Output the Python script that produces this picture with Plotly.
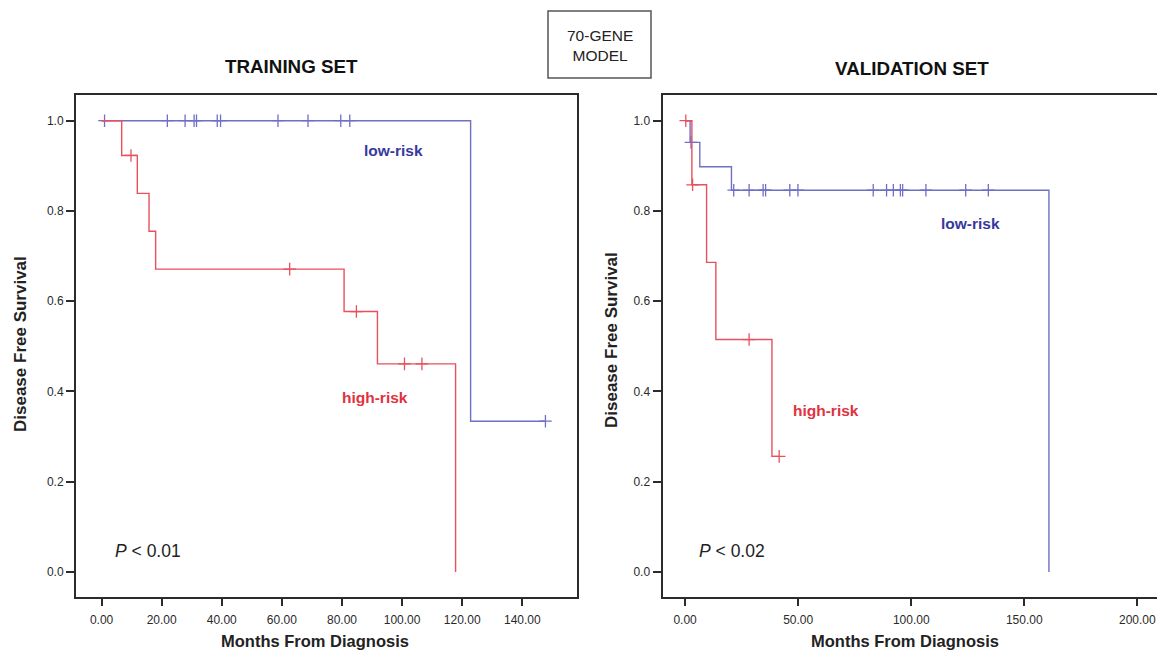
import plotly.graph_objects as go

W, H = 1157, 653

# ---------------- data ----------------
# Training set
train_low_event_times = [122.8]
train_low_surv = [1.0, 0.334]
train_low_censor = [1.0, 21.9, 27.8, 30.8, 31.6, 38.5, 39.6, 58.7, 68.7, 79.6, 82.6, 147.7]

train_high_event_times = [6.7, 11.9, 15.8, 18.0, 80.7, 91.8, 117.8]
train_high_surv = [1.0, 0.923, 0.839, 0.755, 0.671, 0.577, 0.461, 0.0]
train_high_censor = [9.8, 62.6, 84.8, 100.8, 106.6]

# Validation set
val_low_event_times = [2.2, 6.5, 20.5, 160.9]
val_low_surv = [1.0, 0.952, 0.898, 0.846, 0.0]
val_low_censor = [2.6, 21.5, 28.3, 34.5, 35.6, 46.3, 49.9, 83.2, 89.1, 92.1,
                  95.2, 96.2, 106.5, 124.1, 134.1]

val_high_event_times = [3.0, 9.5, 13.6, 38.4]
val_high_surv = [1.0, 0.858, 0.686, 0.515, 0.256]
val_high_censor = [0.3, 3.3, 28.3, 41.6]

y_ticks = [0.0, 0.2, 0.4, 0.6, 0.8, 1.0]
train_x_ticks = [0, 20, 40, 60, 80, 100, 120, 140]
val_x_ticks = [0, 50, 100, 150, 200]

BLUE = "#6f6fc6"
RED = "#e8505c"
BLUE_TXT = "#37399c"
RED_TXT = "#e0323f"
FONT = "Liberation Sans, Arial, sans-serif"


def km_xy(events, surv, censors):
    xs, ys = [0.0], [surv[0]]
    for t, s in zip(events, surv[1:]):
        xs.append(t)
        ys.append(s)
    end = max(list(events) + list(censors))
    if end > xs[-1]:
        xs.append(end)
        ys.append(ys[-1])
    return xs, ys


def surv_at(t, events, surv):
    k = sum(1 for e in events if e <= t)
    return surv[k]


fig = go.Figure()

curves = [
    (train_low_event_times, train_low_surv, train_low_censor, BLUE, "x", "y"),
    (train_high_event_times, train_high_surv, train_high_censor, RED, "x", "y"),
    (val_low_event_times, val_low_surv, val_low_censor, BLUE, "x2", "y2"),
    (val_high_event_times, val_high_surv, val_high_censor, RED, "x2", "y2"),
]
for ev, sv, cen, col, xa, ya in curves:
    xs, ys = km_xy(ev, sv, cen)
    fig.add_trace(go.Scatter(x=xs, y=ys, mode="lines", line_shape="hv",
                             line=dict(color=col, width=1.4),
                             xaxis=xa, yaxis=ya, showlegend=False, hoverinfo="skip"))
    fig.add_trace(go.Scatter(x=cen, y=[surv_at(t, ev, sv) for t in cen], mode="markers",
                             marker=dict(symbol="cross-thin", size=9,
                                         line=dict(color=col, width=1.3)),
                             xaxis=xa, yaxis=ya, showlegend=False, hoverinfo="skip"))


def px(x):
    return x / W


def py(y):
    return 1 - y / H


ydom = [py(597), py(95)]
axis_common = dict(showline=True, linewidth=2, linecolor="#2b2b2b",
                   ticks="outside", tickwidth=2, tickcolor="#2b2b2b",
                   showgrid=False, zeroline=False,
                   tickfont=dict(family=FONT, size=12, color="#2a2a2a"))

fig.update_layout(
    width=W, height=H,
    margin=dict(l=0, r=0, t=0, b=0),
    paper_bgcolor="white", plot_bgcolor="white",
    xaxis=dict(domain=[px(76), px(577)], range=[-8.5, 158.2], mirror=True,
               tickvals=train_x_ticks, tickformat=".2f", ticklen=7, anchor="y",
               ticklabelstandoff=4, **axis_common),
    yaxis=dict(domain=ydom, range=[-0.0556, 1.057], tickvals=y_ticks, mirror=True,
               tickformat=".1f", ticklen=8, anchor="x", **axis_common),
    xaxis2=dict(domain=[px(662.5), 1.0], range=[-10.0, 208.7], mirror=True,
                tickvals=val_x_ticks, tickformat=".2f", ticklen=7, anchor="y2",
                ticklabelstandoff=4, **axis_common),
    yaxis2=dict(domain=ydom, range=[-0.0556, 1.057], tickvals=y_ticks, mirror=False,
                tickformat=".1f", ticklen=8, anchor="x2", **axis_common),
)


def ann(text, x, y, size, color="#222222", bold=False, angle=0):
    t = f"<b>{text}</b>" if bold else text
    fig.add_annotation(text=t, x=px(x), y=py(y), xref="paper", yref="paper",
                       showarrow=False, textangle=angle, xanchor="center", yanchor="middle",
                       font=dict(family=FONT, size=size, color=color))


# titles
ann("TRAINING SET", 291, 66, 18.8, "#111111", bold=True)
ann("VALIDATION SET", 912, 69, 18.8, "#111111", bold=True)
ann("70-GENE<br>MODEL", 600, 45, 15.5, "#222222")
fig.add_shape(type="rect", xref="paper", yref="paper",
              x0=px(548), x1=px(651), y0=py(78), y1=py(11),
              line=dict(color="#555555", width=1.5))

# axis titles
ann("Months From Diagnosis", 315, 641, 16.5, "#222222", bold=True)
ann("Months From Diagnosis", 905, 641, 16.5, "#222222", bold=True)
ann("Disease Free Survival", 20, 344, 17, "#222222", bold=True, angle=-90)
ann("Disease Free Survival", 611, 340, 17, "#222222", bold=True, angle=-90)

# group labels
ann("low-risk", 393, 151, 15.5, BLUE_TXT, bold=True)
ann("high-risk", 375, 397, 15.5, RED_TXT, bold=True)
ann("low-risk", 970, 223, 15.5, BLUE_TXT, bold=True)
ann("high-risk", 826, 410, 15.5, RED_TXT, bold=True)

# p-values
ann("<i>P</i> &lt; 0.01", 148, 551, 17.5, "#222222")
ann("<i>P</i> &lt; 0.02", 732, 551, 17.5, "#222222")

fig.write_html("out.html", config={"displayModeBar": False},
               post_script="document.body.style.margin='0';document.body.style.padding='0';"
                           "document.body.style.overflow='hidden';")
